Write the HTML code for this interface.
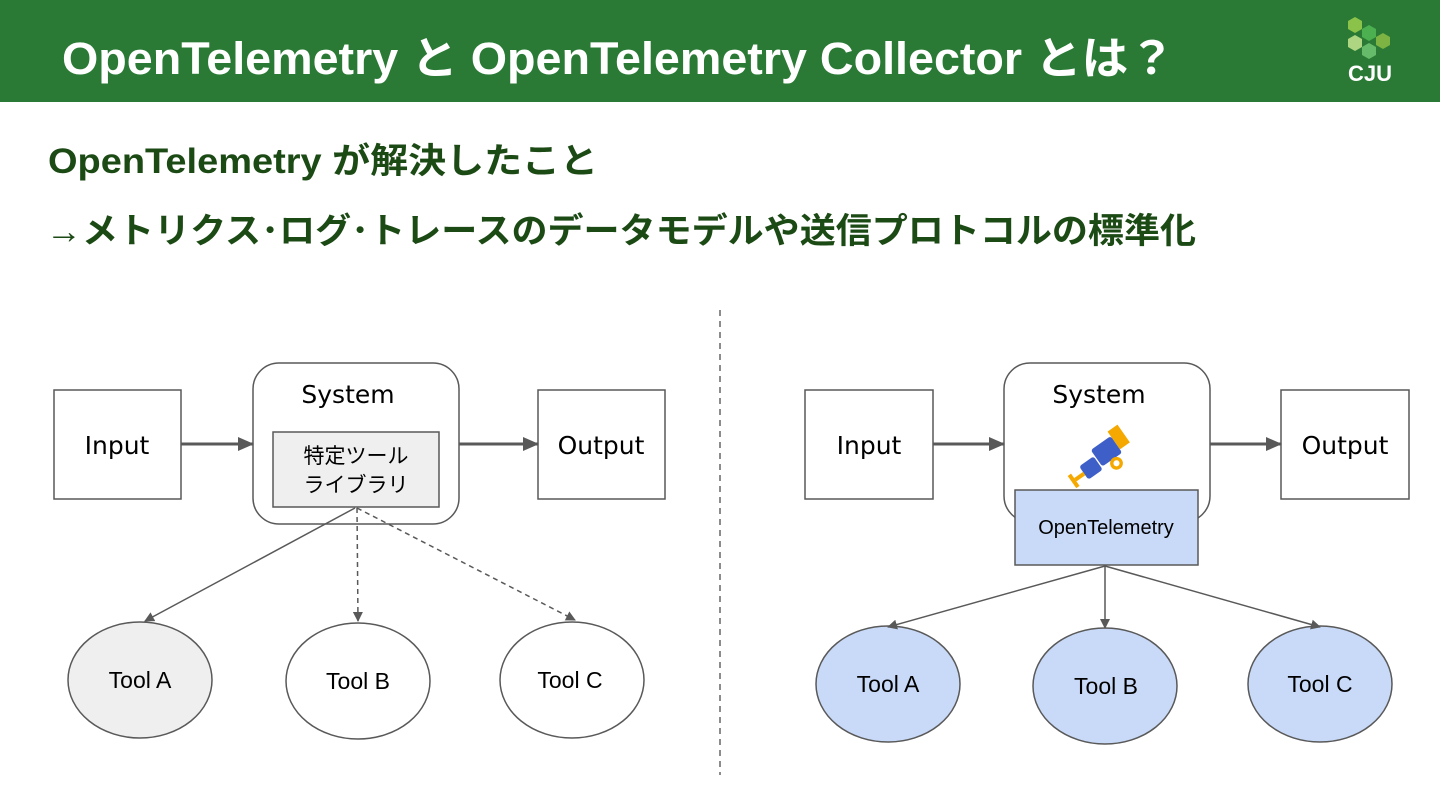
<!DOCTYPE html>
<html><head><meta charset="utf-8"><style>
html,body{margin:0;padding:0;background:#fff;}
svg{display:block;}
text{font-family:"Liberation Sans","Noto Sans CJK JP",sans-serif;}
.dv{font-family:"DejaVu Sans","Liberation Sans",sans-serif;}
</style></head><body>
<svg width="1440" height="810" viewBox="0 0 1440 810" xmlns="http://www.w3.org/2000/svg">
<defs>
<marker id="ah" markerWidth="10" markerHeight="10" refX="9" refY="5" orient="auto" markerUnits="userSpaceOnUse"><path d="M0,0 L10,5 L0,10 z" fill="#595959"/></marker>
<marker id="ahb" markerWidth="16" markerHeight="14" refX="15" refY="7" orient="auto" markerUnits="userSpaceOnUse"><path d="M0,0 L16,7 L0,14 z" fill="#595959"/></marker>
</defs>
<rect x="0" y="0" width="1440" height="102" fill="#2a7a35"/>
<text x="62" y="74" font-size="45" font-weight="bold" fill="#fff" textLength="1113" lengthAdjust="spacingAndGlyphs">OpenTelemetry と OpenTelemetry Collector とは？</text>
<g transform="translate(1335,15)">
<polygon points="20,2 27,6 27,14 20,18 13,14 13,6" fill="#8bc34a"/>
<polygon points="34,10 41,14 41,22 34,26 27,22 27,14" fill="#4caf50"/>
<polygon points="48,18 55,22 55,30 48,34 41,30 41,22" fill="#7cb342"/>
<polygon points="20,20 27,24 27,32 20,36 13,32 13,24" fill="#aed581"/>
<polygon points="34,28 41,32 41,40 34,44 27,40 27,32" fill="#66bb6a"/>
<text x="35" y="66" font-size="22" font-weight="bold" fill="#fff" text-anchor="middle">CJU</text>
</g>
<text x="48" y="173" font-size="35" font-weight="bold" fill="#1c4a15" textLength="550" lengthAdjust="spacingAndGlyphs">OpenTelemetry が解決したこと</text>
<text x="46" y="243" font-size="35" font-weight="bold" fill="#1c4a15" textLength="1150" lengthAdjust="spacingAndGlyphs">→メトリクス･ログ･トレースのデータモデルや送信プロトコルの標準化</text>
<line x1="720" y1="310" x2="720" y2="775" stroke="#666" stroke-width="1.5" stroke-dasharray="6,5"/>
<g stroke="#595959" stroke-width="1.5" fill="#fff">
<rect x="54" y="390" width="127" height="109"/>
<rect x="253" y="363" width="206" height="161" rx="26"/>
<rect x="273" y="432" width="166" height="75" fill="#efefef"/>
<rect x="538" y="390" width="127" height="109"/>
<ellipse cx="140" cy="680" rx="72" ry="58" fill="#efefef"/>
<ellipse cx="358" cy="681" rx="72" ry="58"/>
<ellipse cx="572" cy="680" rx="72" ry="58"/>
<rect x="805" y="390" width="128" height="109"/>
<rect x="1004" y="363" width="206" height="159" rx="26"/>
<rect x="1015" y="490" width="183" height="75" fill="#c9daf8"/>
<rect x="1281" y="390" width="128" height="109"/>
<ellipse cx="888" cy="684" rx="72" ry="58" fill="#c9daf8"/>
<ellipse cx="1105" cy="686" rx="72" ry="58" fill="#c9daf8"/>
<ellipse cx="1320" cy="684" rx="72" ry="58" fill="#c9daf8"/>
</g>
<g stroke="#595959" fill="none">
<line x1="181" y1="444" x2="253" y2="444" stroke-width="3" marker-end="url(#ahb)"/>
<line x1="459" y1="444" x2="538" y2="444" stroke-width="3" marker-end="url(#ahb)"/>
<line x1="933" y1="444" x2="1004" y2="444" stroke-width="3" marker-end="url(#ahb)"/>
<line x1="1210" y1="444" x2="1281" y2="444" stroke-width="3" marker-end="url(#ahb)"/>
<line x1="355" y1="508" x2="145" y2="621" stroke-width="1.5" marker-end="url(#ah)"/>
<line x1="357" y1="508" x2="358" y2="621" stroke-width="1.5" stroke-dasharray="5,4" marker-end="url(#ah)"/>
<line x1="357" y1="508" x2="575" y2="620" stroke-width="1.5" stroke-dasharray="5,4" marker-end="url(#ah)"/>
<line x1="1105" y1="566" x2="888" y2="627" stroke-width="1.5" marker-end="url(#ah)"/>
<line x1="1105" y1="566" x2="1105" y2="628" stroke-width="1.5" marker-end="url(#ah)"/>
<line x1="1105" y1="566" x2="1320" y2="627" stroke-width="1.5" marker-end="url(#ah)"/>
</g>
<g fill="#000" font-size="25" text-anchor="middle" class="dv">
<text class="dv" x="117" y="454">Input</text>
<text class="dv" x="348" y="403">System</text>
<text class="dv" x="601" y="454">Output</text>
<text class="dv" x="869" y="454">Input</text>
<text class="dv" x="1099" y="403">System</text>
<text class="dv" x="1345" y="454">Output</text>
</g>
<text x="356" y="463" font-size="21" text-anchor="middle">特定ツール</text>
<text x="356" y="492" font-size="21" text-anchor="middle">ライブラリ</text>
<text x="1106" y="534" font-size="20" text-anchor="middle">OpenTelemetry</text>
<g font-size="23" text-anchor="middle" fill="#000">
<text x="140" y="688">Tool A</text>
<text x="358" y="689">Tool B</text>
<text x="570" y="688">Tool C</text>
<text x="888" y="692">Tool A</text>
<text x="1106" y="694">Tool B</text>
<text x="1320" y="692">Tool C</text>
</g>
<g transform="translate(1102,452) rotate(-35) scale(1.35)">
<rect x="12" y="-10" width="9" height="16" fill="#f5a800"/>
<rect x="-6" y="-6" width="18" height="15" fill="#3f5fc8" rx="2"/>
<rect x="-20" y="-1" width="13" height="12" fill="#3f5fc8" rx="2"/>
<circle cx="4" cy="13" r="3.5" fill="#fff" stroke="#f5a800" stroke-width="2.5"/>
<rect x="-28" y="4" width="8" height="3" fill="#f5a800"/>
<rect x="-31" y="0" width="3" height="11" fill="#f5a800"/>
</g>
</svg>
</body></html>
